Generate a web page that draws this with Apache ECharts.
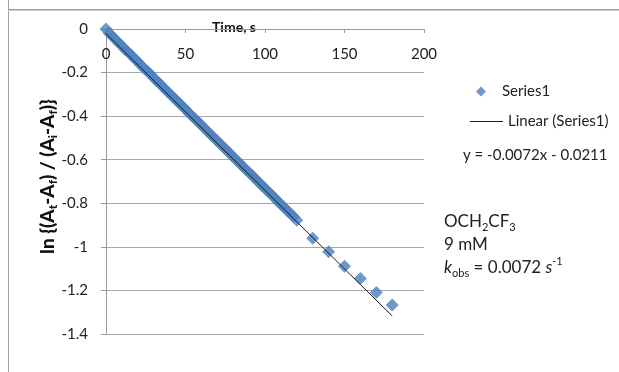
<!DOCTYPE html>
<html>
<head>
<meta charset="utf-8">
<script src="https://cdn.jsdelivr.net/npm/echarts@6/dist/echarts.min.js"></script>
<style>
  html, body { margin: 0; padding: 0; background: #fff; }
  #chart { width: 619px; height: 372px; }
</style>
</head>
<body>
<div id="chart"></div>
<script>
// Kinetics run: OCH2CF3, 9 mM. First-order plot of ln{(At-Af)/(Ai-Af)} against time.
const timeDense = [0, 2, 4, 6, 8, 10, 12, 14, 16, 18, 20, 22, 24, 26, 28, 30, 32, 34, 36, 38,
  40, 42, 44, 46, 48, 50, 52, 54, 56, 58, 60, 62, 64, 66, 68, 70, 72, 74, 76, 78,
  80, 82, 84, 86, 88, 90, 92, 94, 96, 98, 100, 102, 104, 106, 108, 110, 112, 114, 116, 118, 120];
const lnDense = [0.000, -0.019, -0.033, -0.049, -0.063, -0.078, -0.094, -0.107, -0.121, -0.137,
  -0.150, -0.166, -0.181, -0.194, -0.208, -0.225, -0.239, -0.252, -0.267, -0.283,
  -0.296, -0.312, -0.325, -0.341, -0.354, -0.370, -0.384, -0.399, -0.412, -0.428,
  -0.441, -0.457, -0.470, -0.486, -0.499, -0.515, -0.528, -0.544, -0.557, -0.573,
  -0.586, -0.602, -0.615, -0.631, -0.645, -0.660, -0.673, -0.689, -0.702, -0.718,
  -0.731, -0.747, -0.760, -0.776, -0.789, -0.805, -0.818, -0.834, -0.847, -0.862, -0.878];
const timeSparse = [130, 140, 150, 160, 170, 180];
const lnSparse = [-0.961, -1.023, -1.089, -1.145, -1.209, -1.267];

// Least-squares fit reported on the chart
const fitSlope = -0.0072;
const fitIntercept = -0.0211;
const fitRange = [0, 180];

const xTicks = { min: 0, max: 200, interval: 50 };
const yTicks = { min: -1.4, max: 0, interval: 0.2 };

const FONT = 'Lato, "Open Sans", sans-serif';
const TEXT = '#222';

const points = timeDense.map((t, i) => [t, lnDense[i]])
  .concat(timeSparse.map((t, i) => [t, lnSparse[i]]));
const fitLine = fitRange.map(t => [t, fitSlope * t + fitIntercept]);

const chart = echarts.init(document.getElementById('chart'), null, { renderer: 'canvas' });
chart.setOption({
  animation: false,
  backgroundColor: '#fff',
  textStyle: { fontFamily: FONT },
  grid: { left: 106, top: 29, right: 195, bottom: 38, containLabel: false },
  legend: [
    {
      // marker entry
      orient: 'vertical',
      left: 471,
      top: 79,
      itemWidth: 10,
      itemHeight: 10,
      textStyle: { fontFamily: FONT, fontSize: 15, color: TEXT, padding: [0, 0, 0, 11] },
      data: [{ name: 'Series1', icon: 'diamond' }]
    },
    {
      // trendline entry
      orient: 'vertical',
      left: 465,
      top: 109,
      itemWidth: 33,
      itemHeight: 1,
      textStyle: { fontFamily: FONT, fontSize: 15, color: TEXT },
      data: [{ name: 'Linear (Series1)', icon: 'rect', itemStyle: { color: '#1a1a1a' } }]
    }
  ],
  xAxis: {
    type: 'value',
    position: 'top',
    min: xTicks.min, max: xTicks.max, interval: xTicks.interval,
    name: 'Time, s',
    nameLocation: 'middle',
    nameGap: 2,
    nameMoveOverlap: false,
    nameTextStyle: {
      fontFamily: FONT, fontSize: 14, fontWeight: 'bold', color: '#111',
      verticalAlign: 'middle', padding: [0, 62, 0, 0]
    },
    axisLine: { show: true, onZero: false, lineStyle: { color: '#9a9a9a', width: 1 } },
    axisTick: { show: true, inside: true, length: 4, lineStyle: { color: '#9a9a9a' } },
    axisLabel: { inside: true, margin: 18, fontFamily: FONT, fontSize: 15, color: TEXT },
    splitLine: { show: false }
  },
  yAxis: {
    type: 'value',
    min: yTicks.min, max: yTicks.max, interval: yTicks.interval,
    name: '{b|ln {(A}{s|t}{b|-A}{s|f}{b|) / (A}{s|i}{b|-A}{s|f}{b|)}}',
    nameLocation: 'middle',
    nameGap: 47,
    nameRotate: 90,
    nameMoveOverlap: false,
    nameTextStyle: {
      fontFamily: FONT, fontSize: 19, fontWeight: 900, color: '#111', lineHeight: 22,
      padding: [0, 0, 0, 10],
      rich: {
        b: { fontFamily: FONT, fontSize: 19, fontWeight: 900, color: '#111', lineHeight: 22 },
        s: { fontFamily: FONT, fontSize: 12, fontWeight: 900, color: '#111', lineHeight: 11, verticalAlign: 'bottom' }
      }
    },
    axisLine: { show: true, lineStyle: { color: '#9a9a9a', width: 1 } },
    axisTick: { show: true, length: 5, lineStyle: { color: '#9a9a9a' } },
    axisLabel: { margin: 18, fontFamily: FONT, fontSize: 15, color: TEXT, formatter: v => String(Math.round(v * 10) / 10) },
    splitLine: { show: true, lineStyle: { color: '#a8a8a8', width: 1 } }
  },
  series: [
    {
      name: 'Series1',
      type: 'scatter',
      symbol: 'diamond',
      symbolSize: 13,
      itemStyle: { color: '#4a7ebb' },
      data: points,
      z: 2
    },
    {
      name: 'Linear (Series1)',
      type: 'line',
      symbol: 'none',
      lineStyle: { color: '#1a1a1a', width: 1 },
      itemStyle: { color: '#1a1a1a' },
      data: fitLine,
      z: 3
    }
  ],
  graphic: [
    { type: 'line', shape: { x1: 8.5, y1: 0, x2: 8.5, y2: 372 }, style: { stroke: '#a0a0a0', lineWidth: 1 } },
    { type: 'line', shape: { x1: 8, y1: 9.5, x2: 619, y2: 9.5 }, style: { stroke: '#9a9a9a', lineWidth: 1 } },
    { type: 'line', shape: { x1: 8, y1: 10.5, x2: 619, y2: 10.5 }, style: { stroke: '#cfcfcf', lineWidth: 1 } },
    {
      type: 'text', left: 463, top: 148,
      style: { text: 'y = -0.0072x - 0.0211', font: '15px ' + FONT, fill: TEXT }
    },
    {
      type: 'text', left: 444, top: 210,
      style: {
        text: 'OCH{s|2}CF{s|3}\n9 mM\n{k|k}{s|obs} = 0.0072 {k|s}{p|-1}',
        fontFamily: FONT, fontSize: 17, fill: TEXT, lineHeight: 23,
        rich: {
          s: { fontFamily: FONT, fontSize: 11, fill: TEXT, lineHeight: 16, verticalAlign: 'bottom' },
          k: { fontFamily: FONT, fontSize: 17, fontStyle: 'italic', fill: TEXT, lineHeight: 23 },
          p: { fontFamily: FONT, fontSize: 11, fill: TEXT, lineHeight: 16, verticalAlign: 'top' }
        }
      }
    }
  ]
});
</script>
</body>
</html>
